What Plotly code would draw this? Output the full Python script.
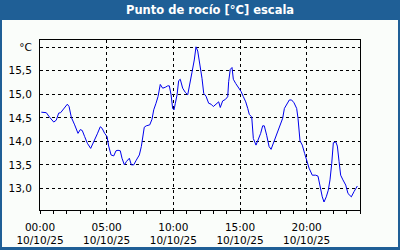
import plotly.graph_objects as go

# hours since 00:00 on 10/10/25 and dew point values (°C)
hours = [0.1, 0.47, 0.73, 1.03, 1.22, 1.4, 1.55, 1.78, 2.05, 2.18, 2.35, 2.6, 2.85, 3.02, 3.17, 3.35, 3.55, 3.8,
         4.05, 4.3, 4.52, 4.65, 4.85, 5.03, 5.15, 5.33, 5.53, 5.7, 5.85, 6.02, 6.15, 6.33, 6.48, 6.7, 6.85, 7.03,
         7.22, 7.45, 7.6, 7.7, 7.82, 7.97, 8.23, 8.4, 8.53, 8.7, 8.85, 9.02, 9.2, 9.4, 9.58, 9.7, 9.83, 9.95,
         10.05, 10.15, 10.28, 10.4, 10.52, 10.7, 10.9, 11.08, 11.25, 11.4, 11.57, 11.7, 11.83, 12.0, 12.15, 12.28,
         12.45, 12.65, 12.83, 13.0, 13.2, 13.4, 13.52, 13.7, 13.9, 14.08, 14.15, 14.27, 14.4, 14.5, 14.68, 14.87,
         15.08, 15.25, 15.43, 15.58, 15.7, 15.88, 16.0, 16.2, 16.37, 16.55, 16.7, 16.82, 17.0, 17.18, 17.33,
         17.5, 17.68, 17.87, 18.05, 18.2, 18.33, 18.5, 18.7, 18.87, 19.05, 19.25, 19.35, 19.5, 19.67, 19.85,
         20.0, 20.18, 20.42, 20.68, 20.85, 21.0, 21.17, 21.3, 21.47, 21.62, 21.75, 21.88, 22.0, 22.18, 22.3,
         22.43, 22.55, 22.72, 22.93, 23.1, 23.35, 23.55, 23.8]
dew_point = [14.62, 14.61, 14.51, 14.41, 14.45, 14.60, 14.61, 14.70, 14.79, 14.74, 14.51, 14.35, 14.17, 14.25,
             14.23, 14.10, 13.96, 13.85, 13.99, 14.16, 14.31, 14.28, 14.17, 14.10, 13.90, 13.71, 13.69, 13.80,
             13.81, 13.80, 13.64, 13.50, 13.57, 13.64, 13.50, 13.50, 13.60, 13.71, 13.89, 14.06, 14.30, 14.33,
             14.35, 14.47, 14.67, 14.81, 14.95, 15.21, 15.13, 15.15, 15.18, 15.18, 14.99, 14.70, 14.67, 14.81,
             14.99, 15.29, 15.32, 15.13, 15.04, 14.99, 15.30, 15.47, 15.73, 16.01, 15.92, 15.62, 15.34, 15.02,
             14.96, 14.81, 14.79, 14.74, 14.79, 14.84, 14.72, 14.86, 14.89, 14.95, 15.27, 15.53, 15.57, 15.32,
             15.23, 15.16, 15.06, 14.95, 14.84, 14.70, 14.57, 14.52, 14.06, 13.92, 14.03, 14.17, 14.33, 14.33,
             14.13, 13.89, 13.83, 13.96, 14.10, 14.24, 14.38, 14.49, 14.70, 14.79, 14.88, 14.88, 14.82, 14.70,
             14.49, 14.01, 13.92, 13.74, 13.57, 13.43, 13.28, 13.28, 13.26, 13.03, 12.82, 12.71, 12.82, 12.96,
             13.18, 13.53, 13.97, 13.99, 13.90, 13.57, 13.28, 13.18, 13.07, 12.89, 12.82, 12.93, 13.05]

x_tick_hours = [0, 5, 10, 15, 20]
x_tick_labels = ["00:00<br>10/10/25", "05:00<br>10/10/25", "10:00<br>10/10/25",
                 "15:00<br>10/10/25", "20:00<br>10/10/25"]
y_tick_vals = [13.0, 13.5, 14.0, 14.5, 15.0, 15.5, 16.0]
y_tick_labels = ["13,0", "13,5", "14,0", "14,5", "15,0", "15,5", "°C"]
title_text = "Punto de rocío [°C] escala"

BLUE = "#1f5f96"
BG = "#fafdfa"
FONT = "DejaVu Sans"

fig = go.Figure()
fig.add_trace(go.Scatter(x=hours, y=dew_point, mode="lines",
                         line=dict(color="#0000ee", width=1), hoverinfo="skip"))

L, R, T, B = 40, 40, 40, 40
W, H = 400, 250
pw, ph = W - L - R, H - T - B

def px_x(p):
    return (p - L) / pw

def px_y(p):
    return (H - B - p) / ph

fig.update_layout(
    width=W, height=H,
    margin=dict(l=L, r=R, t=T, b=B),
    paper_bgcolor=BLUE,
    plot_bgcolor=BG,
    showlegend=False,
    font=dict(family=FONT, size=10, color="#000000"),
    shapes=[
        dict(type="rect", xref="paper", yref="paper", layer="below",
             x0=px_x(2), x1=px_x(398), y0=px_y(247), y1=px_y(20),
             fillcolor=BG, line=dict(width=0)),
    ],
    annotations=[
        dict(text="<b>" + title_text + "</b>", xref="paper", yref="paper",
             x=px_x(210), y=px_y(10), xanchor="center", yanchor="middle",
             showarrow=False, font=dict(family=FONT, size=11.5, color="white")),
    ],
)

fig.update_xaxes(
    range=[0, 24], automargin=False,
    tickvals=x_tick_hours, ticktext=x_tick_labels,
    ticks="outside", ticklen=3, tickcolor="black", tickwidth=1,
    minor=dict(dtick=1, ticks="outside", ticklen=3, tickcolor="black", showgrid=False),
    showgrid=True, gridcolor="black", gridwidth=1, griddash="3px,3px",
    showline=True, linecolor="black", linewidth=1, mirror=True,
    zeroline=False, tickfont=dict(family=FONT, size=10.5, color="black"),
    ticklabelstandoff=4,
)
fig.update_yaxes(
    range=[12.54, 16.155], automargin=False,
    tickvals=y_tick_vals, ticktext=y_tick_labels,
    ticks="", showgrid=True, gridcolor="black", gridwidth=1, griddash="3px,3px",
    showline=True, linecolor="black", linewidth=1, mirror=True,
    zeroline=False, tickfont=dict(family=FONT, size=10.5, color="black"),
    ticklabelstandoff=5,
)

fig.write_html("out.html")
